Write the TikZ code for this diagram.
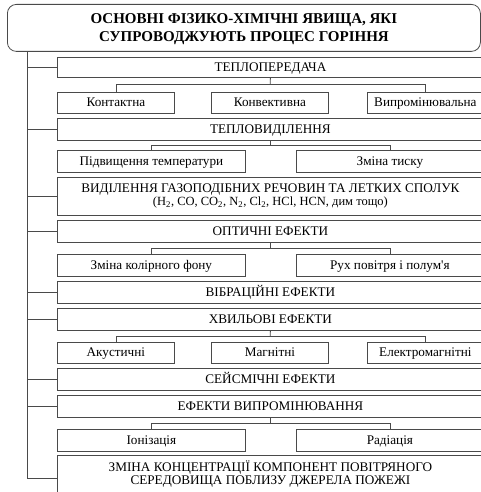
\documentclass[tikz,border=0pt]{standalone}
\usepackage{fontspec}
\setmainfont{Liberation Serif}
\usetikzlibrary{calc}
\definecolor{linec}{HTML}{4A4A4A}
\begin{document}
\begin{tikzpicture}[x=1pt,y=-1pt,
  box/.style={draw=linec, line width=0.8pt, anchor=north west, inner sep=1pt, align=center, text=black,
    font=\fontsize{13.2}{13}\selectfont},
  one/.style={text height=10pt, text depth=2.5pt},
  wide/.style={box, minimum width=426pt},
  third/.style={box, one, minimum width=117pt, minimum height=21pt},
  half/.style={box, one, minimum width=188pt, minimum height=22pt},
  link/.style={draw=linec, line width=0.8pt}]
\useasboundingbox (0,0) rectangle (481,492);
\clip (0,0) rectangle (481,492);
\node[box, rounded corners=9pt, minimum width=473pt, minimum height=47pt, text depth=0pt,
  font=\bfseries\fontsize{15}{18}\selectfont] (title) at (7,4)
  {ОСНОВНІ ФІЗИКО-ХІМІЧНІ ЯВИЩА, ЯКІ\\СУПРОВОДЖУЮТЬ ПРОЦЕС ГОРІННЯ};
\node[wide, one, minimum height=20pt] (b1) at (57,57) {ТЕПЛОПЕРЕДАЧА};
\node[third] (s11) at (57,92) {Контактна};
\node[third] (s12) at (211,92) {Конвективна};
\node[third, minimum width=116pt] (s13) at (367,92) {Випромінювальна};
\node[wide, one, minimum height=22pt] (b2) at (57,118) {ТЕПЛОВИДІЛЕННЯ};
\node[half] (s21) at (57,150) {Підвищення температури};
\node[half, minimum width=187pt] (s22) at (296,150) {Зміна тиску};
\node[wide, minimum height=38pt] (b3) at (57,177)
  {ВИДІЛЕННЯ ГАЗОПОДІБНИХ РЕЧОВИН ТА ЛЕТКИХ СПОЛУК\\
   {\fontsize{12.5}{13}\selectfont (H\textsubscript{2}, CO, CO\textsubscript{2}, N\textsubscript{2}, Cl\textsubscript{2}, HCl, HCN, дим тощо)}};
\node[wide, one, minimum height=22pt] (b4) at (57,220) {ОПТИЧНІ ЕФЕКТИ};
\node[half] (s41) at (57,254) {Зміна колірного фону};
\node[half, minimum width=187pt] (s42) at (296,254) {Рух повітря і полум\textquotesingle я};
\node[wide, one, minimum height=22pt] (b5) at (57,281) {ВІБРАЦІЙНІ ЕФЕКТИ};
\node[wide, one, minimum height=22pt] (b6) at (57,308) {ХВИЛЬОВІ ЕФЕКТИ};
\node[third] (s61) at (57,342) {Акустичні};
\node[third] (s62) at (211,342) {Магнітні};
\node[third, minimum width=116pt] (s63) at (367,342) {Електромагнітні};
\node[wide, one, minimum height=22pt] (b7) at (57,368) {СЕЙСМІЧНІ ЕФЕКТИ};
\node[wide, one, minimum height=22pt] (b8) at (57,395) {ЕФЕКТИ ВИПРОМІНЮВАННЯ};
\node[half] (s81) at (57,429) {Іонізація};
\node[half, minimum width=187pt] (s82) at (296,429) {Радіація};
\node[wide, minimum height=46pt] (b9) at (57,455)
  {ЗМІНА КОНЦЕНТРАЦІЇ КОМПОНЕНТ ПОВІТРЯНОГО\\СЕРЕДОВИЩА ПОБЛИЗУ ДЖЕРЕЛА ПОЖЕЖІ\\[-6pt]\strut};
% spine
\coordinate (sp) at ($(title.south west)+(20,0)$);
\draw[link] (sp) |- (b9.west);
\foreach \b in {b1,b2,b3,b4,b5,b6,b7,b8}
  \draw[link] (sp |- \b.west) -- (\b.west);
% three-way splits
\coordinate (j1) at ($(b1.south)!0.5!(s12.north)$);
\draw[link] (b1.south) -- (j1);
\draw[link] (s11.north) |- (j1) -| (s13.north);
\coordinate (j6) at ($(b6.south)!0.5!(s62.north)$);
\draw[link] (b6.south) -- (j6);
\draw[link] (s61.north) |- (j6) -| (s63.north);
% two-way splits
\coordinate (j2) at ($(b2.south)!0.5!(b2.south |- s21.north)$);
\draw[link] (b2.south) -- (j2);
\draw[link] (s21.north) |- (j2) -| (s22.north);
\coordinate (j4) at ($(b4.south)!0.5!(b4.south |- s41.north)$);
\draw[link] (b4.south) -- (j4);
\draw[link] (s41.north) |- (j4) -| (s42.north);
\coordinate (j8) at ($(b8.south)!0.5!(b8.south |- s81.north)$);
\draw[link] (b8.south) -- (j8);
\draw[link] (s81.north) |- (j8) -| (s82.north);
\end{tikzpicture}
\end{document}
